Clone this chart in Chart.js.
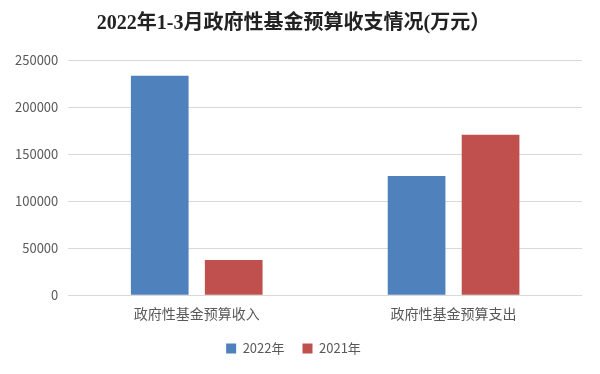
<!DOCTYPE html>
<html>
<head>
<meta charset="utf-8">
<script src="https://cdn.jsdelivr.net/npm/chart.js@4"></script>
<style>
  html, body { margin: 0; padding: 0; background: #fff; }
  #wrap { width: 600px; height: 374px; }
</style>
</head>
<body>
<div id="wrap"><canvas id="chart"></canvas></div>
<script>
const categories = ['政府性基金预算收入', '政府性基金预算支出'];
const values2022 = [233300, 126800];
const values2021 = [37300, 170500];
const seriesNames = ['2022年', '2021年'];

const fontFamily = "'Microsoft YaHei', 'Noto Sans CJK SC', sans-serif";

const data = {
    labels: categories,
    datasets: [{
        label: seriesNames[0],
        data: values2022,
        backgroundColor: '#4f81bd',
        categoryPercentage: 0.576,
        barPercentage: 0.78
    }, {
        label: seriesNames[1],
        data: values2021,
        backgroundColor: '#c0504d',
        categoryPercentage: 0.576,
        barPercentage: 0.78
    }]
};

const config = {
    type: 'bar',
    data: data,
    options: {
        responsive: true,
        maintainAspectRatio: false,
        animation: false,
        layout: {
            padding: { left: 5, right: 18, top: 6, bottom: 9 }
        },
        scales: {
            x: {
                grid: { display: false },
                border: { display: false },
                ticks: {
                    color: '#595959',
                    padding: 2,
                    font: { size: 14, family: fontFamily }
                }
            },
            y: {
                min: 0,
                max: 250000,
                grid: {
                    color: '#d9d9d9',
                    lineWidth: 1,
                    drawTicks: false
                },
                border: { display: false },
                ticks: {
                    stepSize: 50000,
                    color: '#595959',
                    padding: 10,
                    font: { size: 13, family: fontFamily },
                    callback: (v) => String(v)
                }
            }
        },
        plugins: {
            title: {
                display: true,
                text: '2022年1-3月政府性基金预算收支情况(万元）',
                color: '#222222',
                font: { size: 20, weight: 'bold', family: "'Liberation Serif', 'Noto Sans CJK SC', serif" },
                padding: { top: 6, bottom: 24 }
            },
            legend: {
                display: true,
                position: 'bottom',
                labels: {
                    boxWidth: 10,
                    boxHeight: 10,
                    padding: 18,
                    color: '#595959',
                    font: { size: 13, family: fontFamily }
                }
            },
            tooltip: { enabled: false }
        }
    }
};

new Chart(document.getElementById('chart'), config);
</script>
</body>
</html>
